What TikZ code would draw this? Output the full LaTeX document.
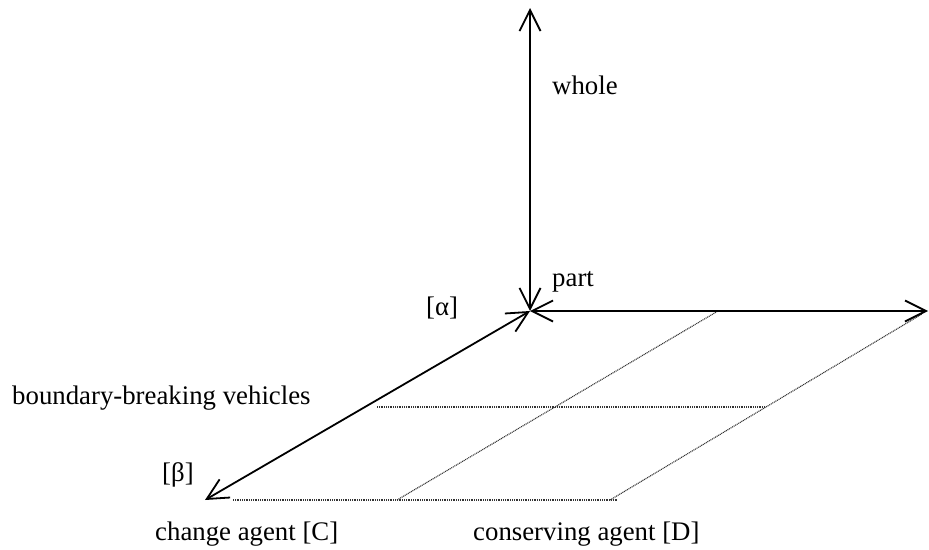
\documentclass[tikz,border=0pt]{standalone}
\usepackage{fontspec}
\setmainfont{Liberation Serif}
\usetikzlibrary{arrows.meta}

\tikzset{
  axis/.style={line width=1.8pt, {Straight Barb[length=21pt,width=21pt]}-{Straight Barb[length=21pt,width=21pt]}},
  gridline/.style={line width=1.1pt, black!80, dash pattern=on 1pt off 0.8pt},
  lbl/.style={anchor=base west, inner sep=0pt, font=\fontsize{26.8}{30}\selectfont}
}

\begin{document}
\begin{tikzpicture}[x=1pt,y=-1pt]
  \useasboundingbox (0,0) rectangle (929,549);

  % axes meeting at the origin
  \coordinate (O) at (530,311);
  \coordinate (top) at (530,8);
  \coordinate (right) at (928,311);
  \coordinate (bl) at (205,500);

  % dotted plane grid
  \coordinate (g1a) at (233,500);  \coordinate (g1b) at (618,500);
  \coordinate (g2a) at (377,407);  \coordinate (g2b) at (765,407);
  \coordinate (g3a) at (397,500);  \coordinate (g3b) at (718,311);
  \coordinate (g4a) at (610,500);  \coordinate (g4b) at (922,314);
  \draw[gridline] (g1a) -- (g1b);
  \draw[gridline] (g2a) -- (g2b);
  \draw[gridline] (g3a) -- (g3b);
  \draw[gridline] (g4a) -- (g4b);

  \draw[axis] (O) -- (top);
  \draw[axis] (O) -- (right);
  \draw[axis] (O) -- (bl);

  % labels
  \node[lbl] (whole) at (552,94) {whole};
  \node[lbl] (part) at (552,286) {part};
  \node[lbl] (alpha) at (426,315) {[α]};
  \node[lbl] (beta) at (162,481) {[β]};
  \node[lbl] (bbv) at (12,404) {boundary-breaking vehicles};
  \node[lbl] (chg) at (155,540) {change agent [C]};
  \node[lbl] (cons) at (473,540) {conserving agent [D]};
\end{tikzpicture}
\end{document}
